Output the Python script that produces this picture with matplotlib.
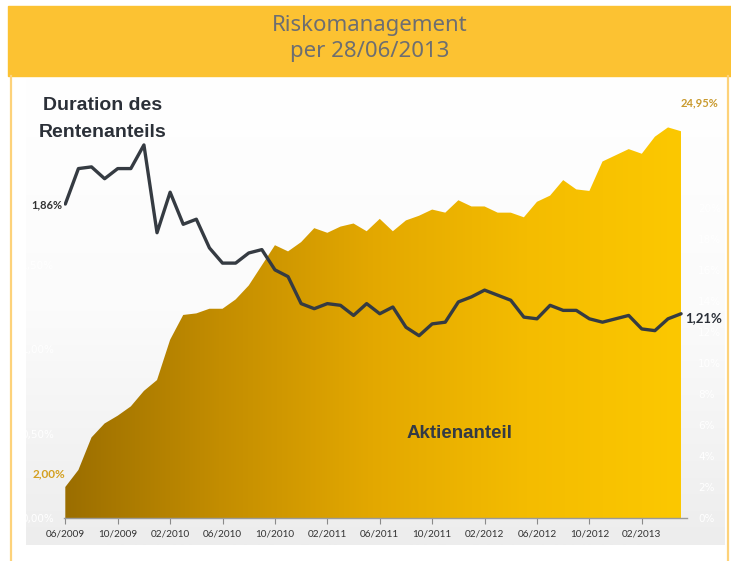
import numpy as np
import pandas as pd
import matplotlib
matplotlib.use("Agg")
import matplotlib.pyplot as plt
from matplotlib.colors import LinearSegmentedColormap
from matplotlib.patches import Rectangle
from matplotlib.lines import Line2D

W, H = 731, 561

# Monatswerte 06/2009 - 05/2013
months = pd.date_range("2009-06-01", periods=48, freq="MS")

# Duration des Rentenanteils (linke Achse, %)
duration = [1.86, 2.07, 2.08, 2.01, 2.07, 2.07, 2.21, 1.69, 1.93, 1.74,
            1.77, 1.60, 1.51, 1.51, 1.57, 1.59, 1.47, 1.43, 1.27, 1.24,
            1.27, 1.26, 1.20, 1.27, 1.21, 1.25, 1.13, 1.08, 1.15, 1.16,
            1.28, 1.31, 1.35, 1.32, 1.29, 1.19, 1.18, 1.26, 1.23, 1.23,
            1.18, 1.16, 1.18, 1.20, 1.12, 1.11, 1.18, 1.21]

# Aktienanteil (rechte Achse, %)
aktien = [2.00, 3.1, 5.2, 6.1, 6.6, 7.2, 8.2, 8.9, 11.5, 13.1,
          13.2, 13.5, 13.5, 14.1, 15.0, 16.3, 17.6, 17.2, 17.8, 18.7,
          18.4, 18.8, 19.0, 18.5, 19.3, 18.5, 19.2, 19.5, 19.9, 19.7,
          20.5, 20.1, 20.1, 19.7, 19.7, 19.4, 20.4, 20.8, 21.8, 21.2,
          21.1, 23.0, 23.4, 23.8, 23.5, 24.6, 25.2, 24.95]

left_ticks = [0, 0.5, 1.0, 1.5]
right_ticks = list(range(0, 21, 2))


def fx(px):
    return px / W


def fy(py):
    return 1 - py / H


fig = plt.figure(figsize=(W / 100, H / 100), dpi=100)
fig.patch.set_facecolor("white")

# Kopfzeile
fig.patches.append(Rectangle((fx(8), fy(76)), (731 - 8) / W, (76 - 6) / H,
                             transform=fig.transFigure, color="#fcc232", zorder=0))
for xl in (11, 728):
    fig.add_artist(Line2D([fx(xl), fx(xl)], [fy(76), 0], color="#fdd27a", lw=1.6,
                          transform=fig.transFigure))

narrow = ["Liberation Sans Narrow", "Noto Sans", "DejaVu Sans"]
fig.text(fx(370), fy(25), "Riskomanagement", ha="center", va="center",
         fontsize=16, color="#6d6e71", family=narrow, fontstretch="extra-condensed")
fig.text(fx(370), fy(51), "per 28/06/2013", ha="center", va="center",
         fontsize=16, color="#6d6e71", family=narrow, fontstretch="extra-condensed")

# Hintergrund mit Verlauf
bg = fig.add_axes([fx(26), fy(545), (725 - 26) / W, (545 - 78) / H])
bg_cmap = LinearSegmentedColormap.from_list("bg", ["#ffffff", "#fbfbfb", "#ededed"])
bg.imshow(np.linspace(0, 1, 256).reshape(-1, 1), cmap=bg_cmap, aspect="auto",
          extent=[0, 1, 0, 1])
bg.axis("off")

# Hauptdiagramm
ax = fig.add_axes([fx(64), fy(518), (687 - 64) / W, (518 - 80) / H])
ax.set_facecolor("none")
ax2 = ax.twinx()
x = np.arange(len(months))
ymax_r = 438 / 15.5

fill = ax.fill_between(x, 0, aktien, facecolor="none", edgecolor="none")
area_cmap = LinearSegmentedColormap.from_list(
    "area", ["#9b6e00", "#c38d00", "#e3a800", "#f4bc00", "#fcc800"])
im = ax.imshow(np.linspace(0, 1, 256).reshape(1, -1), cmap=area_cmap, aspect="auto",
               extent=[0, len(months) - 1, 0, ymax_r], zorder=1)
im.set_clip_path(fill.get_paths()[0], ax.transData)

ax.set_xlim(-0.1, 47.45)
ax.set_ylim(0, ymax_r)

for s in ("top", "left", "right"):
    ax.spines[s].set_visible(False)
ax.spines["bottom"].set_color("#9a9a9a")
ax.spines["bottom"].set_linewidth(1.0)

ax.set_xticks(x[::4])
ax.set_xticklabels([d.strftime("%m/%Y") for d in months[::4]])
ax.tick_params(axis="x", direction="out", length=4, color="#8a8a8a", labelsize=7.2,
               labelcolor="#333333", pad=4)
for t in ax.get_xticklabels():
    t.set_family(["Lato", "DejaVu Sans"])

# rechte Achse: Aktienanteil, linke Achse: Duration
ax.yaxis.tick_right()
ax.set_yticks(right_ticks)
ax.set_yticklabels([f"{v}%" for v in right_ticks])
ax.tick_params(axis="y", length=0, labelsize=7.5, labelcolor="#ffffff", pad=8)

ax2.plot(x, duration, color="#353b42", lw=2.4, solid_joinstyle="round",
         solid_capstyle="round", zorder=3)
ax2.set_ylim(0, 438 / 168.8)
for s in ax2.spines.values():
    s.set_visible(False)
ax2.yaxis.tick_left()
ax2.set_yticks(left_ticks)
ax2.set_yticklabels([f"{v:.2f}%".replace(".", ",") for v in left_ticks])
ax2.tick_params(axis="y", length=0, labelsize=7.5, labelcolor="#ffffff", pad=7)

# Beschriftungen
bold = ["Liberation Sans", "DejaVu Sans"]
fig.text(fx(103), fy(105), "Duration des", ha="center", va="center", fontsize=14,
         fontweight="bold", color="#2b3038", family=bold)
fig.text(fx(103), fy(132), "Rentenanteils", ha="center", va="center", fontsize=14,
         fontweight="bold", color="#2b3038", family=bold)
fig.text(fx(460), fy(433), "Aktienanteil", ha="center", va="center", fontsize=13.5,
         fontweight="bold", color="#333a45", family=bold)

small = ["Lato", "DejaVu Sans"]
fig.text(fx(62), fy(205), f"{duration[0]:.2f}%".replace(".", ","), ha="right",
         va="center", fontsize=8, fontweight="bold", color="#333333", family=small)
fig.text(fx(685), fy(318), f"{duration[-1]:.2f}%".replace(".", ","), ha="left",
         va="center", fontsize=9.5, fontweight="bold", color="#2b3038", family=small)
fig.text(fx(718), fy(103), f"{aktien[-1]:.2f}%".replace(".", ","), ha="right",
         va="center", fontsize=8, fontweight="bold", color="#c99a2e", family=small)
fig.text(fx(65), fy(474), f"{aktien[0]:.2f}%".replace(".", ","), ha="right",
         va="center", fontsize=8.5, fontweight="bold", color="#d4a020", family=small)

fig.savefig("out.png", dpi=100)
